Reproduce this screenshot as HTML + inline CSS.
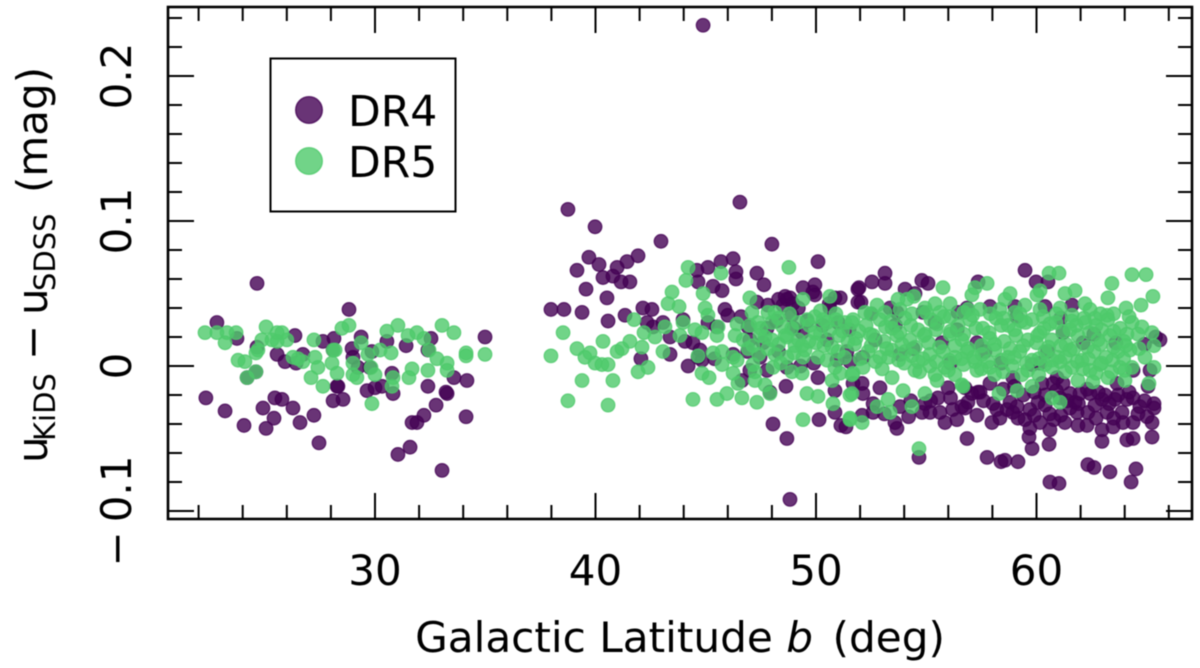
<!DOCTYPE html>
<html lang="en">
<head>
<meta charset="utf-8">
<title>uKiDS minus uSDSS vs Galactic latitude</title>
<style>
html,body{margin:0;padding:0;background:#fff;}
#chart{display:block;width:1200px;height:668px;filter:blur(0.45px);}
text{font-family:"DejaVu Sans","Liberation Sans",sans-serif;fill:#000;}
</style>
</head>
<body>
<svg id="chart" xmlns="http://www.w3.org/2000/svg" width="1200" height="668" viewBox="0 0 1200 668">
  <rect x="0" y="0" width="1200" height="668" fill="#fff"/>
  <g id="points"></g>
  <g id="ticks"></g>
  <rect x="168" y="7" width="1024" height="512" fill="none" stroke="#000" stroke-width="2.6"/>
  <g id="tick-labels"></g>
  <text x="680" y="652" font-size="42.2" text-anchor="middle">Galactic Latitude <tspan font-style="italic">b</tspan> <tspan dx="6">(deg)</tspan></text>
  <g font-size="42">
    <text transform="translate(47,463) rotate(-90)">u</text>
    <text transform="translate(55,441) rotate(-90)" font-size="29">KiDS</text>
    <text transform="translate(47,360) rotate(-90)">−</text>
    <text transform="translate(47,315) rotate(-90)">u</text>
    <text transform="translate(55,291) rotate(-90)" font-size="29">SDSS</text>
    <text transform="translate(47,193) rotate(-90)">(mag)</text>
  </g>
  <g>
    <rect x="270.5" y="58.5" width="185" height="153" fill="#fff" stroke="#000" stroke-width="2"/>
    <circle cx="309" cy="110" r="13.3" fill="#440154" fill-opacity="0.8" stroke="#440154" stroke-opacity="0.8" stroke-width="1.4"/>
    <text x="348" y="126" font-size="42.5">DR4</text>
    <circle cx="309" cy="161" r="13.3" fill="#4ec96a" fill-opacity="0.8" stroke="#4ec96a" stroke-opacity="0.8" stroke-width="1.4"/>
    <text x="348" y="177" font-size="42.5">DR5</text>
  </g>
</svg>
<script>
const xMajorTicks = [30, 40, 50, 60];
const xMinorTicks = [22, 24, 26, 28, 32, 34, 36, 38, 42, 44, 46, 48, 52, 54, 56, 58, 62, 64, 66];
const yMajorTicks = [-0.1, 0, 0.1, 0.2];
const yMinorTicks = [-0.08, -0.06, -0.04, -0.02, 0.02, 0.04, 0.06, 0.08, 0.12, 0.14, 0.16, 0.18, 0.22, 0.24];
const xTickLabels = ["30", "40", "50", "60"];
const yTickLabels = ["0", "0.1", "0.2"];
const yNegativeTickLabel = "0.1";

const dr4Lat = [
22.33,23.2,24.06,22.83,23.74,24.65,24.65,25.56,25.92,26.37,26.42,26.73,27.64,28.14,28.1,28.28,28.1,24.2,24.6,24.92,25.46,25.78,26.28,25.42,25.06,26.6,27.23,27.46,
28.82,29.37,30.54,31.41,32.54,34.99,28.96,29.0,29.86,29.23,30.77,32.4,29.77,28.32,28.55,29.64,30,30.32,30.82,32.4,33.27,33.22,33.58,34.17,32.77,32.22,31.68,31.9,34.13,31.59,31.04,33.04,
44.88,46.55,38.75,39.98,42.97,48.0,39.7,40.16,39.16,40.98,41.43,41.93,40.34,40.79,41.16,41.56,39.57,40.52,37.98,38.57,39.39,40.57,41.34,42.15,42.56,42.34,43.06,42.61,43.97,43.38,44.06,44.42,44.74,43.38,42.06,44.2,44.65,44.83,45.1,
44.6,45.1,44.65,45.69,46.24,46.37,46.37,45.33,45.74,47.32,47.64,45.87,50.09,49.41,49.95,49.95,48.68,48.82,48.5,47.82,47.32,50.86,50.63,51.9,51.9,46.92,47.78,49.37,46.24,47.46,47.78,48.68,50.09,48.64,46.64,47.91,50.86,50.86,50.14,48.05,48.68,51.13,51.36,48.82,51.54,51.4,51.68,50.95,48.95,48.6,49.86,
53.13,53.13,52.54,51.95,52.04,54.8,55.08,54.04,54.49,57.35,53.36,53.67,54.85,56.44,56.85,57.89,52.68,55.71,57.3,53.81,52.13,52.09,52.9,52.13,55.99,52.59,52.59,53.81,54.81,54.94,55.53,55.17,55.62,55.85,56.39,56.62,56.89,56.76,57.07,57.44,57.3,57.98,58.03,58.66,52.09,53.58,53.67,
56.85,54.67,57.76,58.39,58.57,59.16,59.8,59.66,59.7,60.16,60.61,60.57,60.79,61.29,61.88,62.29,62.97,62.97,63.47,64.1,64.38,65.24,65.24,64.38,63.92,60.61,61.02,62.33,62.61,63.33,64.51,64.29,58.93,59.16,58.8,59.12,60.07,61.52,61.84,62.33,62.97,63.2,63.88,64.1,64.38,64.69,65.01,65.33,65.33,
61.52,61.97,62.43,63.11,61.2,60.75,60.25,58.93,57.89,57.35,56.76,63.65,65.06,59.48,59.98,60.52,61.61,60.39,59.02,61.2,62.11,65.6,64.38,65.15,57.66,59.8,60.93,60.16,61.07,61.75,62.65,63.56,59.7,60.39,58.34,59.48,
59.9,60.4,60.9,61.4,61.9,62.3,62.8,63.3,63.7,64.2,58.5,59.4,59.0,60.6,61.1,59.9,62.7,63.5,64.6,64.9,58.2,57.6,56.2,55.2,54.3,54.2,56.1,53.1,
45.5,46.0,46.6,47.0,47.6,48.2,48.9,49.2,49.0,49.6,50.3,50.5,51.0,51.5,46.9,45.4,48.3,47.0,49.9,49.3,50.6,48.3,51.1,
52.5,53.6,55.4,56.4,59.1,61.1,62.6,63.6,64.9,65.4,60.5,58.4,56.1,54.4
];
const dr4Diff = [
-0.022,-0.031,-0.041,0.030,0.019,0.013,0.057,0.008,0.003,0.021,0.002,0.008,0.017,0.019,0.011,-0.014,-0.024,-0.008,-0.004,-0.029,-0.022,-0.023,-0.029,-0.036,-0.043,-0.039,-0.034,-0.053,
0.039,0.020,0.017,0.014,0.019,0.020,0.012,0.006,0.010,-0.001,-0.005,0.011,-0.001,-0.014,-0.023,-0.017,-0.015,-0.014,-0.019,-0.014,-0.019,-0.018,-0.008,-0.010,-0.027,-0.034,-0.039,-0.039,-0.035,-0.056,-0.061,-0.072,
0.235,0.113,0.108,0.096,0.086,0.084,0.075,0.070,0.066,0.068,0.072,0.076,0.061,0.062,0.058,0.058,0.053,0.047,0.039,0.039,0.037,0.031,0.035,0.040,0.039,0.030,0.030,0.027,0.032,0.020,0.017,0.016,0.011,0.008,0.005,0,0.006,0.004,0.030,
0.066,0.068,0.058,0.072,0.074,0.065,0.060,0.055,0.052,0.064,0.056,0.039,0.072,0.054,0.056,0.049,0.046,0.047,0.042,0.042,0.044,0.047,0.040,0.053,0.044,0.027,0.026,0.023,0.008,0.006,-0.003,-0.001,-0.008,-0.014,-0.010,-0.018,-0.017,-0.032,-0.037,-0.040,-0.050,-0.041,-0.042,-0.092,0.003,0.010,-0.012,0.004,0.043,0.048,0.051,
0.064,0.057,0.058,0.054,0.044,0.059,0.057,0.053,0.050,0.058,0.040,0.037,0.037,0.037,0.040,0.041,0.018,0.016,0.016,0.008,0.006,-0.012,-0.015,-0.019,-0.015,-0.026,-0.032,-0.028,-0.032,-0.026,-0.022,-0.032,-0.032,-0.039,-0.037,-0.028,-0.025,-0.029,-0.019,-0.018,-0.034,-0.039,-0.026,-0.030,-0.034,-0.039,-0.043,
-0.050,-0.063,-0.063,-0.066,-0.065,-0.066,-0.057,-0.049,-0.043,-0.039,-0.044,-0.054,-0.037,-0.039,-0.041,-0.041,-0.044,-0.052,-0.042,-0.051,-0.050,-0.049,-0.039,-0.039,-0.039,-0.080,-0.081,-0.068,-0.070,-0.073,-0.071,-0.080,-0.032,-0.036,-0.025,-0.028,-0.025,-0.029,-0.032,-0.032,-0.023,-0.032,-0.032,-0.023,-0.022,-0.028,-0.035,-0.026,-0.029,
-0.019,-0.019,-0.019,-0.020,-0.012,-0.012,-0.012,-0.008,-0.012,-0.018,-0.015,-0.012,-0.014,0.066,0.058,0.058,0.042,0.041,0.041,0.023,0.016,0.018,-0.003,-0.003,0.010,0.001,-0.008,0.002,-0.022,-0.025,-0.027,-0.023,-0.030,-0.027,-0.036,-0.037,
-0.018,-0.020,-0.017,-0.024,-0.026,-0.016,-0.018,-0.026,-0.020,-0.018,-0.016,-0.020,-0.014,-0.033,-0.034,-0.034,-0.036,-0.036,-0.033,-0.024,-0.030,-0.024,-0.030,-0.024,-0.024,-0.035,-0.022,-0.033,
0.027,0.035,0.034,0.018,0.016,0.031,0.035,0.040,0.026,0.031,0.028,0.018,0.030,0.025,0.010,0.005,0.010,-0.003,0.002,0.000,0.043,0.046,0.047,
0.036,0.028,0.030,0.025,0.034,0.033,0.022,0.016,0.015,0.020,0.010,0.002,0.002,0.012
];

const dr5Lat = [
22.29,22.83,23.29,23.7,23.2,23.79,24.1,24.6,24.69,24.87,25.06,24.2,24.6,25.33,25.56,25.78,26.0,25.56,26.28,26.51,26.73,27.23,27.28,27.41,27.1,27.64,28.05,28.1,28.28,28.5,28.82,28.19,29.0,29.0,29.18,29.37,29.68,30.23,30.73,29.82,30.0,30.54,31.04,31.5,31.9,32.22,32.45,32.81,33.27,33.27,32.4,31.68,31.54,30.82,30.77,29.86,33.04,33.58,34.13,34.13,34.99,
44.2,44.1,45.69,48.77,43.47,43.29,43.79,44.88,44.97,45.1,47.0,41.75,42.2,42.7,43.15,43.97,43.83,44.51,44.83,42.11,43.06,38.53,40.34,37.98,39.16,39.75,39.52,39.98,40.29,40.57,40.98,41.2,41.56,39.39,40.79,38.75,40.57,41.93,42.38,44.65,45.33,45.74,45.74,45.56,45.51,46.33,46.42,46.42,46.24,44.83,45.15,46.46,45.96,45.51,44.42,46.64,47.32,47.91,47.69,47.23,47.14,46.92,47.14,47.1,47.37,47.82,48.14,47.69,47.82,48.05,48.5,48.68,48.68,49.18,49.37,49.41,49.41,49.37,48.91,49.95,49.95,50.09,50.63,50.63,50.73,50.86,50.73,49.59,50.09,50.77,49.41,51.54,51.54,51.31,51.45,51.68,51.09,51.68,48.6,49.05,47.46,48.14,49.68,50.36,51.04,50.32,46.24,47.23,
60.57,61.02,57.76,57.21,57.07,55.76,53.72,54.13,54.44,52.77,52.22,55.4,56.08,56.89,58.57,58.8,59.48,60.16,60.02,61.07,61.29,61.75,62.2,63.42,63.24,64.33,64.97,64.06,64.74,65.28,63.2,64.78,65.24,65.33,64.92,65.33,65.1,64.33,64.01,63.24,62.56,61.88,60.7,61.07,59.8,59.12,59.34,58.3,56.67,54.94,53.95,54.35,53.45,53.27,53.36,52.77,52.09,51.54,54.67,52.13,51.63,51.63,55.49,56.62,57.3,
51.63,52.27,52.9,53.45,54.04,54.63,55.22,55.8,56.44,56.98,57.57,58.16,58.71,59.25,59.8,60.34,60.88,61.52,62.15,62.7,63.24,63.79,64.33,
51.81,52.45,53.08,53.67,54.26,54.9,55.44,56.08,56.62,57.89,58.53,59.07,59.61,60.16,60.7,61.34,61.88,62.79,63.33,63.97,64.6,
52.36,52.9,53.45,54.04,54.63,55.17,55.76,56.3,56.85,57.53,58.12,58.71,59.25,59.8,60.39,60.97,61.52,62.06,62.61,63.15,63.7,64.24,
54.49,55.17,55.85,56.3,57.21,57.89,58.48,60.39,61.07,61.61,62.43,62.88,63.79,
53.13,53.81,54.94,55.62,57.44,58.34,59.02,60.16,61.61,62.43,62.65,
51.95,52.6,53.15,53.8,54.3,54.95,55.5,56.1,56.7,57.25,57.85,58.4,59.0,59.5,60.05,60.6,61.2,61.8,62.4,62.95,63.5,64.1,
51.75,52.5,53.2,53.9,54.5,55.1,55.6,56.3,56.9,57.5,58.1,58.8,59.4,60.0,60.55,61.1,61.7,62.3,62.9,63.5,64.05,64.65,
52.0,52.7,53.3,53.75,54.35,54.85,55.45,56.05,56.6,57.15,57.8,58.4,59.0,59.55,60.1,60.7,61.3,61.85,62.35,62.95,63.45,63.95,
52.5,53.4,54.35,55.0,56.1,56.7,57.1,57.9,58.5,59.3,60.3,60.9,61.6,62.2,62.9,63.5,64.2,
53.0,54.0,54.7,55.4,56.0,56.7,57.5,58.1,58.9,59.6,60.1,60.7,61.3,62.1,62.7,63.4,64.0,
46.7,47.0,47.5,48.0,48.3,48.9,49.2,49.7,50.2,50.5,50.9,51.2,47.4,48.0,48.4,49.0,49.5,50.0,50.5,51.0,51.3,48.3,48.8,49.6,50.2,50.9
];
const dr5Diff = [
0.023,0.023,0.023,0.023,0.016,0.004,0.003,0.009,0.011,0.018,0.027,-0.008,-0.004,0.018,0.017,0.023,0.018,0.023,0.006,0.005,0.003,0.018,0.006,-0.001,-0.008,-0.014,0.002,0.011,-0.005,0.026,0.028,0.011,0.002,-0.006,-0.008,0.016,0.008,0.011,0.009,-0.001,-0.006,0.024,0.028,0.021,0.023,0.019,0.011,0.005,0.002,-0.003,-0.003,-0.002,-0.008,-0.008,-0.014,-0.026,0.028,0.023,0.009,0.007,0.008,
0.068,0.059,0.064,0.068,0.051,0.043,0.041,0.050,0.040,0.035,0.047,0.032,0.023,0.020,0.027,0.030,0.021,0.025,0.023,0.013,0.010,0.023,0.017,0.007,0.012,0.009,0.006,0.002,0.001,0.001,0.010,0.012,0.017,-0.010,-0.010,-0.024,-0.027,-0.004,-0.001,0.007,0.009,0.010,0.001,0.027,0.021,0.021,0.029,0.004,-0.005,-0.005,-0.008,-0.012,-0.019,-0.023,-0.023,-0.022,-0.025,-0.019,-0.013,-0.010,0.001,0.012,0.014,0.037,0.030,0.037,0.037,0.020,0.012,-0.001,0.027,0.020,0.006,0.030,0.014,0.046,0.006,-0.005,-0.004,0.034,0.023,0.006,0.048,0.025,0.013,-0.001,-0.010,-0.019,-0.021,-0.026,-0.037,-0.020,-0.037,0.030,0.017,0.032,-0.005,-0.005,0.021,0.014,0.021,0.008,0.017,0.014,0.021,0.032,0.006,-0.004,
0.064,0.064,0.057,0.054,0.049,0.054,0.046,0.046,0.048,0.042,0.037,0.043,0.043,0.039,0.046,0.050,0.042,0.052,0.049,0.040,0.050,0.052,0.043,0.057,0.047,0.063,0.063,0.040,0.042,0.048,0.035,0.027,0.023,0.014,0.006,-0.001,-0.012,-0.001,-0.010,-0.008,-0.011,-0.010,-0.022,-0.025,-0.014,-0.017,-0.006,-0.019,-0.014,-0.019,-0.017,-0.028,-0.008,-0.023,-0.032,-0.028,-0.039,-0.036,-0.057,-0.001,-0.006,-0.019,-0.010,-0.013,-0.003,
0.030,0.028,0.032,0.026,0.033,0.025,0.032,0.034,0.028,0.032,0.026,0.033,0.028,0.036,0.032,0.026,0.030,0.025,0.033,0.028,0.032,0.026,0.030,
0.019,0.022,0.017,0.021,0.018,0.021,0.025,0.022,0.018,0.019,0.017,0.021,0.018,0.023,0.018,0.015,0.021,0.018,0.021,0.017,0.022,
0.010,0.006,0.011,0.010,0.003,0.008,0.010,0.006,0.010,0.008,0.011,0.006,0.010,0.004,0.010,0.006,0.011,0.004,0.010,0.006,0.010,0.011,
-0.003,0,-0.001,-0.006,0.003,-0.001,-0.004,0.001,0.003,-0.001,-0.003,0.001,-0.001,
0.037,0.039,0.040,0.037,0.039,0.039,0.037,0.039,0.035,0.039,0.033,
0.024,0.021,0.027,0.023,0.028,0.022,0.029,0.024,0.022,0.026,0.023,0.028,0.025,0.030,0.021,0.029,0.024,0.028,0.023,0.025,0.024,0.022,
0.015,0.014,0.012,0.015,0.013,0.016,0.013,0.014,0.012,0.014,0.015,0.012,0.014,0.016,0.013,0.014,0.012,0.013,0.015,0.013,0.014,0.012,
0.005,0.003,0.006,0.004,0.007,0.005,0.003,0.004,0.005,0.006,0.003,0.004,0.006,0.002,0.005,0.004,0.006,0.003,0.005,0.002,0.004,0.005,
0.036,0.031,0.036,0.037,0.034,0.037,0.035,0.036,0.033,0.031,0.034,0.036,0.031,0.030,0.036,0.036,0.034,
-0.002,0.002,-0.004,-0.006,-0.003,0.001,-0.002,-0.006,0.000,-0.003,-0.006,-0.001,-0.004,-0.002,-0.005,-0.004,-0.003,
0.018,0.028,0.026,0.030,0.015,0.026,0.018,0.028,0.022,0.030,0.032,0.024,0.008,0.018,0.002,0.009,0.011,0.016,0.004,0.010,0.006,0.033,0.036,0.032,0.038,0.036
];

const SVG_NS = "http://www.w3.org/2000/svg";

function xScale(lat) { return 375 + (lat - 30) * 22.05; }
function yScale(diff) { return 366 - diff * 1450; }

function drawSeries(parent, lats, diffs, color, seriesName) {
  const count = Math.min(lats.length, diffs.length);
  for (let i = 0; i < count; i++) {
    const dot = document.createElementNS(SVG_NS, "circle");
    
    
    dot.setAttribute("cx", xScale(lats[i]));
    dot.setAttribute("cy", yScale(diffs[i]));
    dot.setAttribute("r", 6.8);
    dot.setAttribute("fill", color);
    dot.setAttribute("fill-opacity", 0.8);
    dot.setAttribute("stroke", color);
    dot.setAttribute("stroke-opacity", 0.8);
    dot.setAttribute("stroke-width", 1.2);
    parent.appendChild(dot);
  }
}

function addTick(parent, x1, y1, x2, y2, tickName) {
  const tick = document.createElementNS(SVG_NS, "line");
  
  
  tick.setAttribute("x1", x1);
  tick.setAttribute("y1", y1);
  tick.setAttribute("x2", x2);
  tick.setAttribute("y2", y2);
  tick.setAttribute("stroke", "#000");
  tick.setAttribute("stroke-width", 2);
  parent.appendChild(tick);
}

function drawTicks(parent) {
  const left = 168, right = 1192, top = 7, bottom = 519;
  const majorLen = 26, minorLen = 14;
  xMajorTicks.forEach(function (v) {
    addTick(parent, xScale(v), bottom, xScale(v), bottom - majorLen, "x-major-tick-bottom");
    addTick(parent, xScale(v), top, xScale(v), top + majorLen, "x-major-tick-top");
  });
  xMinorTicks.forEach(function (v) {
    addTick(parent, xScale(v), bottom, xScale(v), bottom - minorLen, "x-minor-tick-bottom");
    addTick(parent, xScale(v), top, xScale(v), top + minorLen, "x-minor-tick-top");
  });
  yMajorTicks.forEach(function (v) {
    addTick(parent, left, yScale(v), left + majorLen, yScale(v), "y-major-tick-left");
    addTick(parent, right, yScale(v), right - majorLen, yScale(v), "y-major-tick-right");
  });
  yMinorTicks.forEach(function (v) {
    addTick(parent, left, yScale(v), left + minorLen, yScale(v), "y-minor-tick-left");
    addTick(parent, right, yScale(v), right - minorLen, yScale(v), "y-minor-tick-right");
  });
}

function addLabel(parent, text, transform, labelName) {
  const label = document.createElementNS(SVG_NS, "text");
  
  
  label.setAttribute("transform", transform);
  label.setAttribute("font-size", 42);
  label.setAttribute("text-anchor", "middle");
  label.textContent = text;
  parent.appendChild(label);
  return label;
}

function drawTickLabels(parent) {
  xMajorTicks.forEach(function (v, i) {
    addLabel(parent, xTickLabels[i], "translate(" + xScale(v) + ",585)", "x-tick-label");
  });
  const positiveTicks = yMajorTicks.slice(1);
  positiveTicks.forEach(function (v, i) {
    addLabel(parent, yTickLabels[i], "translate(131," + yScale(v) + ") rotate(-90)", "y-tick-label");
  });
  const neg = addLabel(parent, "", "translate(131," + yScale(yMajorTicks[0]) + ") rotate(-90)", "y-tick-label");
  const minus = document.createElementNS(SVG_NS, "tspan");
  minus.textContent = "\u2212";
  const digits = document.createElementNS(SVG_NS, "tspan");
  digits.setAttribute("dx", 9);
  digits.textContent = yNegativeTickLabel;
  neg.appendChild(minus);
  neg.appendChild(digits);
}

drawSeries(document.getElementById("points"), dr4Lat, dr4Diff, "#440154", "dr4");
drawSeries(document.getElementById("points"), dr5Lat, dr5Diff, "#4ec96a", "dr5");
drawTicks(document.getElementById("ticks"));
drawTickLabels(document.getElementById("tick-labels"));
</script>
</body>
</html>
